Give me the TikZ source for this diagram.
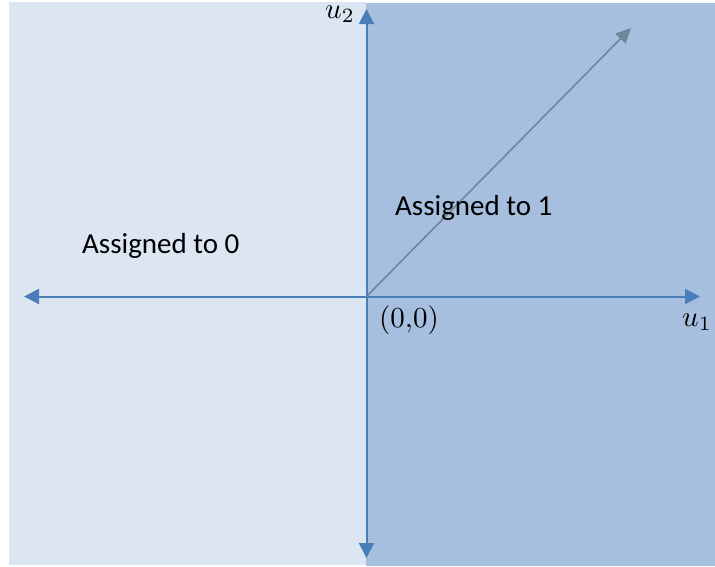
\documentclass[tikz,border=0pt]{standalone}
\usepackage{graphicx}
\usepackage{fontspec}
\setmainfont{Carlito}
\usetikzlibrary{arrows.meta}
\definecolor{leftbg}{HTML}{DCE6F2}
\definecolor{rightbg}{HTML}{A7BFDE}
\definecolor{axisblue}{HTML}{4A7EBB}
\definecolor{diaggray}{HTML}{708599}
\newcommand{\bigmath}[1]{\scalebox{2.9}{$#1$}}
\tikzset{
  axis/.style={draw=axisblue, line width=2pt, -{Triangle[length=15pt,width=15pt]}},
  diag/.style={draw=diaggray, line width=1.6pt, -{Triangle[length=15pt,width=14pt]}},
  region/.style={text=black, font=\fontsize{29}{33}\selectfont},
  mathlbl/.style={text=black, font=\normalsize, inner sep=0pt}
}
\begin{document}
\begin{tikzpicture}[x=1pt,y=-1pt]
\useasboundingbox (0,0) rectangle (715,566);
\fill[leftbg] (9,2) rectangle (366,565);
\fill[rightbg] (366,3) rectangle (715,566);
\coordinate (O) at (366.5,296.5);
\coordinate (top) at (366.5,9);
\coordinate (bot) at (366.5,558);
\coordinate (lft) at (24,296.5);
\coordinate (rgt) at (700,296.5);
\coordinate (dg) at (631,28);
\draw[axis] (O) -- (top);
\draw[axis] (O) -- (bot);
\draw[axis] (O) -- (lft);
\draw[axis] (O) -- (rgt);
\draw[diag] (O) -- (dg);
\node[region, anchor=base west, inner sep=0pt] (a1) at (395,215) {Assigned to 1};
\node[region, anchor=base west, inner sep=0pt] (a0) at (82,253) {Assigned to 0};
\node[mathlbl, anchor=base west] (orig) at (379,327) {\bigmath{(0{,}0)}};
\node[mathlbl, anchor=base west] (u1) at (682,326) {\bigmath{u_1}};
\node[mathlbl, anchor=base west] (u2) at (325,18) {\bigmath{u_2}};
\end{tikzpicture}
\end{document}
